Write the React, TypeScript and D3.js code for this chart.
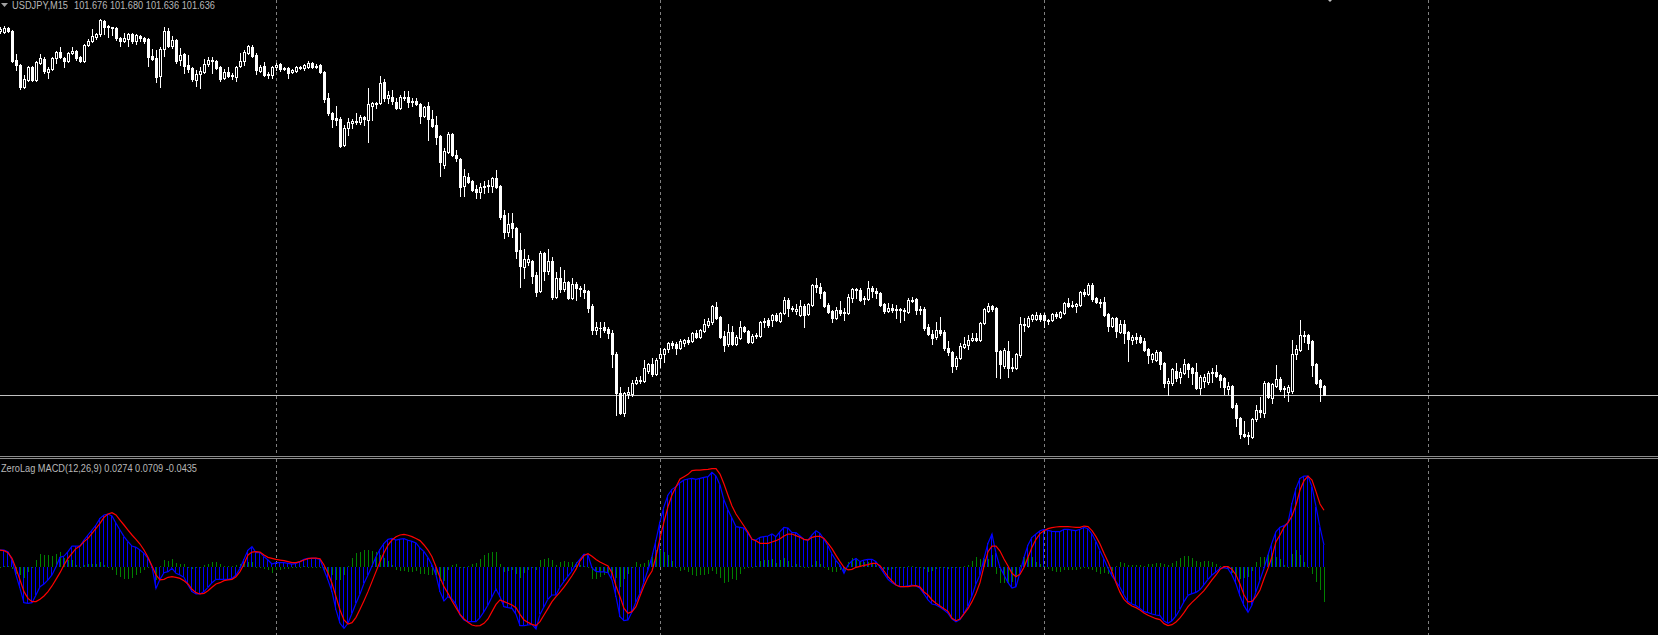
import React from 'react';
import * as d3 from 'd3';

const W = 1658;
const H = 635;

const symbolLabel = 'USDJPY,M15';
const quoteLabel = '101.676 101.680 101.636 101.636';
const indicatorLabel = 'ZeroLag MACD(12,26,9) 0.0274 0.0709 -0.0435';
const bidPrice = 101.636;
const dayStartBars = [69, 165, 261, 357];

const opens = [
  102.000, 101.999, 102.003, 102.000, 101.971, 101.966, 101.944, 101.951, 101.964, 101.951,
  101.968, 101.972, 101.959, 101.962, 101.973, 101.979, 101.973, 101.970, 101.978, 101.980,
  101.974, 101.970, 101.986, 101.990, 101.994, 101.997, 102.010, 102.005, 102.004, 102.003,
  101.993, 101.990, 101.992, 101.997, 101.990, 101.995, 101.993, 101.992, 101.975, 101.973,
  101.955, 101.982, 102.000, 101.985, 101.991, 101.971, 101.977, 101.966, 101.963, 101.951,
  101.957, 101.959, 101.967, 101.971, 101.970, 101.964, 101.953, 101.959, 101.955, 101.954,
  101.965, 101.970, 101.978, 101.984, 101.976, 101.960, 101.965, 101.956, 101.956, 101.964,
  101.967, 101.962, 101.963, 101.959, 101.960, 101.964, 101.963, 101.964, 101.968, 101.965,
  101.966, 101.959, 101.933, 101.918, 101.913, 101.912, 101.886, 101.903, 101.908, 101.910,
  101.909, 101.914, 101.911, 101.925, 101.927, 101.928, 101.949, 101.933, 101.934, 101.929,
  101.923, 101.934, 101.934, 101.929, 101.930, 101.927, 101.915, 101.925, 101.912, 101.906,
  101.895, 101.866, 101.879, 101.897, 101.876, 101.872, 101.845, 101.854, 101.850, 101.842,
  101.839, 101.844, 101.845, 101.845, 101.853, 101.845, 101.816, 101.799, 101.808, 101.803,
  101.781, 101.764, 101.769, 101.770, 101.756, 101.740, 101.778, 101.760, 101.770, 101.734,
  101.753, 101.742, 101.749, 101.733, 101.747, 101.743, 101.741, 101.740, 101.725, 101.701,
  101.703, 101.704, 101.702, 101.698, 101.677, 101.638, 101.618, 101.637, 101.637, 101.648,
  101.650, 101.650, 101.660, 101.667, 101.657, 101.673, 101.677, 101.682, 101.688, 101.687,
  101.683, 101.688, 101.691, 101.690, 101.698, 101.694, 101.700, 101.706, 101.709, 101.724,
  101.714, 101.695, 101.687, 101.699, 101.687, 101.693, 101.704, 101.700, 101.689, 101.695,
  101.695, 101.709, 101.711, 101.711, 101.716, 101.710, 101.718, 101.731, 101.723, 101.720,
  101.716, 101.725, 101.717, 101.726, 101.746, 101.744, 101.739, 101.726, 101.720, 101.713,
  101.721, 101.718, 101.718, 101.733, 101.742, 101.741, 101.732, 101.732, 101.743, 101.740,
  101.738, 101.727, 101.720, 101.723, 101.721, 101.722, 101.721, 101.719, 101.731, 101.732,
  101.721, 101.722, 101.704, 101.697, 101.694, 101.701, 101.699, 101.683, 101.679, 101.665,
  101.673, 101.684, 101.686, 101.691, 101.693, 101.691, 101.708, 101.720, 101.725, 101.723,
  101.680, 101.665, 101.680, 101.664, 101.663, 101.676, 101.707, 101.705, 101.712, 101.712,
  101.716, 101.716, 101.711, 101.711, 101.717, 101.714, 101.718, 101.728, 101.726, 101.725,
  101.726, 101.739, 101.737, 101.746, 101.733, 101.729, 101.729, 101.717, 101.705, 101.713,
  101.699, 101.707, 101.699, 101.691, 101.694, 101.694, 101.690, 101.682, 101.672, 101.671,
  101.679, 101.668, 101.648, 101.648, 101.660, 101.654, 101.658, 101.667, 101.663, 101.659,
  101.643, 101.650, 101.649, 101.659, 101.659, 101.656, 101.653, 101.642, 101.645, 101.626,
  101.613, 101.597, 101.595, 101.594, 101.612, 101.621, 101.618, 101.648, 101.633, 101.645,
  101.652, 101.642, 101.639, 101.640, 101.677, 101.681, 101.696, 101.696, 101.690, 101.667,
  101.651, 101.645,
];

const highs = [
  102.004, 102.005, 102.004, 102.001, 101.977, 101.967, 101.956, 101.965, 101.965, 101.970,
  101.977, 101.974, 101.964, 101.974, 101.980, 101.984, 101.974, 101.979, 101.984, 101.981,
  101.975, 101.987, 101.992, 102.002, 101.998, 102.012, 102.011, 102.006, 102.004, 102.004,
  101.994, 101.998, 101.998, 101.998, 101.997, 101.996, 101.994, 101.993, 101.982, 101.981,
  101.984, 102.004, 102.003, 101.995, 101.992, 101.983, 101.978, 101.976, 101.964, 101.961,
  101.964, 101.972, 101.974, 101.974, 101.971, 101.965, 101.962, 101.964, 101.958, 101.965,
  101.978, 101.981, 101.986, 101.986, 101.978, 101.966, 101.969, 101.959, 101.965, 101.968,
  101.968, 101.964, 101.964, 101.962, 101.965, 101.965, 101.967, 101.970, 101.969, 101.967,
  101.967, 101.960, 101.938, 101.919, 101.925, 101.914, 101.906, 101.913, 101.912, 101.918,
  101.916, 101.915, 101.943, 101.929, 101.929, 101.955, 101.952, 101.940, 101.941, 101.933,
  101.936, 101.940, 101.940, 101.933, 101.933, 101.928, 101.925, 101.929, 101.921, 101.915,
  101.896, 101.883, 101.899, 101.898, 101.881, 101.873, 101.862, 101.858, 101.851, 101.846,
  101.848, 101.850, 101.851, 101.854, 101.861, 101.846, 101.821, 101.818, 101.818, 101.804,
  101.798, 101.782, 101.776, 101.771, 101.759, 101.780, 101.779, 101.782, 101.774, 101.759,
  101.764, 101.761, 101.750, 101.753, 101.749, 101.745, 101.747, 101.741, 101.727, 101.709,
  101.709, 101.709, 101.704, 101.701, 101.679, 101.644, 101.639, 101.644, 101.651, 101.654,
  101.655, 101.671, 101.668, 101.673, 101.673, 101.683, 101.683, 101.689, 101.690, 101.689,
  101.692, 101.692, 101.694, 101.699, 101.701, 101.702, 101.712, 101.713, 101.726, 101.729,
  101.715, 101.700, 101.707, 101.705, 101.696, 101.710, 101.705, 101.701, 101.697, 101.698,
  101.710, 101.713, 101.713, 101.717, 101.718, 101.719, 101.734, 101.733, 101.725, 101.727,
  101.731, 101.727, 101.728, 101.747, 101.753, 101.748, 101.740, 101.728, 101.721, 101.724,
  101.730, 101.723, 101.737, 101.743, 101.743, 101.743, 101.735, 101.750, 101.745, 101.743,
  101.739, 101.728, 101.728, 101.727, 101.726, 101.723, 101.723, 101.733, 101.734, 101.733,
  101.725, 101.724, 101.707, 101.701, 101.709, 101.714, 101.701, 101.690, 101.680, 101.675,
  101.688, 101.694, 101.696, 101.698, 101.698, 101.709, 101.723, 101.728, 101.726, 101.724,
  101.681, 101.683, 101.690, 101.673, 101.678, 101.714, 101.713, 101.715, 101.717, 101.719,
  101.718, 101.718, 101.712, 101.718, 101.719, 101.720, 101.729, 101.733, 101.730, 101.728,
  101.740, 101.742, 101.748, 101.748, 101.734, 101.732, 101.734, 101.718, 101.714, 101.714,
  101.711, 101.711, 101.700, 101.696, 101.698, 101.696, 101.693, 101.683, 101.678, 101.681,
  101.680, 101.669, 101.653, 101.663, 101.668, 101.663, 101.672, 101.668, 101.664, 101.668,
  101.656, 101.657, 101.660, 101.663, 101.666, 101.657, 101.654, 101.649, 101.646, 101.628,
  101.614, 101.610, 101.599, 101.613, 101.626, 101.634, 101.650, 101.649, 101.648, 101.666,
  101.654, 101.645, 101.646, 101.691, 101.686, 101.711, 101.700, 101.697, 101.691, 101.668,
  101.652, 101.646,
];

const lows = [
  101.998, 101.998, 101.999, 101.969, 101.961, 101.942, 101.943, 101.950, 101.950, 101.950,
  101.967, 101.958, 101.953, 101.961, 101.968, 101.973, 101.964, 101.969, 101.977, 101.971,
  101.969, 101.969, 101.985, 101.989, 101.992, 101.995, 101.997, 101.994, 101.996, 101.991,
  101.985, 101.989, 101.985, 101.988, 101.987, 101.990, 101.988, 101.965, 101.971, 101.949,
  101.944, 101.975, 101.984, 101.983, 101.968, 101.966, 101.958, 101.959, 101.950, 101.945,
  101.943, 101.958, 101.965, 101.958, 101.962, 101.950, 101.952, 101.954, 101.952, 101.950,
  101.964, 101.966, 101.977, 101.974, 101.957, 101.959, 101.955, 101.953, 101.953, 101.961,
  101.960, 101.961, 101.953, 101.958, 101.959, 101.962, 101.961, 101.963, 101.963, 101.963,
  101.958, 101.929, 101.916, 101.904, 101.906, 101.884, 101.885, 101.896, 101.903, 101.907,
  101.907, 101.906, 101.889, 101.911, 101.923, 101.927, 101.930, 101.928, 101.927, 101.922,
  101.922, 101.931, 101.924, 101.925, 101.926, 101.908, 101.914, 101.891, 101.904, 101.887,
  101.855, 101.863, 101.878, 101.875, 101.870, 101.835, 101.835, 101.848, 101.840, 101.833,
  101.833, 101.838, 101.839, 101.839, 101.843, 101.812, 101.793, 101.795, 101.794, 101.773,
  101.744, 101.753, 101.766, 101.748, 101.735, 101.739, 101.751, 101.757, 101.732, 101.733,
  101.739, 101.740, 101.732, 101.732, 101.731, 101.735, 101.733, 101.719, 101.697, 101.697,
  101.694, 101.699, 101.693, 101.664, 101.616, 101.617, 101.615, 101.633, 101.635, 101.647,
  101.648, 101.649, 101.658, 101.655, 101.656, 101.664, 101.669, 101.679, 101.683, 101.677,
  101.682, 101.685, 101.687, 101.689, 101.693, 101.693, 101.699, 101.704, 101.707, 101.712,
  101.693, 101.680, 101.685, 101.686, 101.686, 101.692, 101.699, 101.688, 101.688, 101.693,
  101.694, 101.704, 101.704, 101.705, 101.710, 101.709, 101.717, 101.715, 101.720, 101.717,
  101.715, 101.704, 101.716, 101.725, 101.739, 101.733, 101.724, 101.718, 101.709, 101.712,
  101.716, 101.711, 101.717, 101.729, 101.733, 101.730, 101.727, 101.731, 101.734, 101.733,
  101.725, 101.718, 101.719, 101.719, 101.713, 101.709, 101.711, 101.718, 101.729, 101.717,
  101.717, 101.701, 101.696, 101.687, 101.692, 101.696, 101.681, 101.676, 101.659, 101.662,
  101.672, 101.683, 101.682, 101.690, 101.690, 101.690, 101.707, 101.719, 101.720, 101.654,
  101.653, 101.663, 101.654, 101.660, 101.662, 101.674, 101.700, 101.704, 101.710, 101.711,
  101.710, 101.704, 101.707, 101.710, 101.713, 101.713, 101.717, 101.724, 101.724, 101.719,
  101.725, 101.735, 101.736, 101.730, 101.728, 101.724, 101.715, 101.700, 101.704, 101.694,
  101.698, 101.688, 101.670, 101.687, 101.688, 101.688, 101.680, 101.668, 101.669, 101.670,
  101.662, 101.644, 101.636, 101.646, 101.650, 101.648, 101.657, 101.654, 101.647, 101.642,
  101.637, 101.644, 101.647, 101.649, 101.654, 101.644, 101.637, 101.637, 101.623, 101.605,
  101.593, 101.594, 101.587, 101.593, 101.610, 101.614, 101.614, 101.633, 101.628, 101.644,
  101.640, 101.634, 101.630, 101.638, 101.672, 101.680, 101.689, 101.682, 101.655, 101.647,
  101.630, 101.636,
];

const closes = [
  102.002, 102.003, 102.000, 101.970, 101.966, 101.944, 101.952, 101.964, 101.951, 101.969,
  101.973, 101.960, 101.962, 101.973, 101.979, 101.974, 101.970, 101.978, 101.980, 101.973,
  101.970, 101.986, 101.990, 101.995, 101.997, 102.011, 102.004, 102.004, 102.003, 101.993,
  101.990, 101.993, 101.997, 101.990, 101.996, 101.993, 101.990, 101.974, 101.972, 101.954,
  101.982, 102.000, 101.985, 101.991, 101.970, 101.976, 101.965, 101.962, 101.952, 101.957,
  101.960, 101.967, 101.971, 101.970, 101.963, 101.952, 101.959, 101.955, 101.956, 101.964,
  101.970, 101.979, 101.985, 101.975, 101.961, 101.964, 101.956, 101.957, 101.964, 101.966,
  101.962, 101.963, 101.958, 101.961, 101.964, 101.963, 101.966, 101.968, 101.964, 101.964,
  101.959, 101.932, 101.918, 101.912, 101.911, 101.885, 101.903, 101.909, 101.910, 101.909,
  101.914, 101.912, 101.927, 101.928, 101.928, 101.948, 101.933, 101.936, 101.930, 101.923,
  101.934, 101.933, 101.929, 101.930, 101.927, 101.915, 101.924, 101.912, 101.905, 101.894,
  101.869, 101.880, 101.897, 101.876, 101.873, 101.844, 101.855, 101.849, 101.841, 101.839,
  101.844, 101.845, 101.846, 101.853, 101.844, 101.814, 101.799, 101.807, 101.803, 101.780,
  101.765, 101.772, 101.772, 101.755, 101.739, 101.778, 101.760, 101.770, 101.734, 101.753,
  101.742, 101.749, 101.733, 101.747, 101.743, 101.742, 101.739, 101.723, 101.701, 101.704,
  101.703, 101.701, 101.698, 101.677, 101.638, 101.618, 101.638, 101.639, 101.648, 101.651,
  101.651, 101.663, 101.667, 101.657, 101.671, 101.677, 101.682, 101.688, 101.686, 101.683,
  101.690, 101.691, 101.689, 101.698, 101.694, 101.701, 101.707, 101.710, 101.725, 101.713,
  101.694, 101.686, 101.699, 101.687, 101.694, 101.704, 101.700, 101.689, 101.695, 101.696,
  101.709, 101.710, 101.706, 101.716, 101.711, 101.718, 101.731, 101.723, 101.722, 101.722,
  101.725, 101.716, 101.727, 101.746, 101.744, 101.738, 101.725, 101.719, 101.713, 101.721,
  101.718, 101.719, 101.734, 101.742, 101.741, 101.731, 101.733, 101.743, 101.740, 101.738,
  101.726, 101.720, 101.723, 101.721, 101.722, 101.721, 101.720, 101.731, 101.730, 101.721,
  101.722, 101.703, 101.697, 101.693, 101.701, 101.698, 101.683, 101.679, 101.665, 101.673,
  101.685, 101.687, 101.691, 101.693, 101.691, 101.708, 101.722, 101.725, 101.722, 101.680,
  101.667, 101.681, 101.663, 101.663, 101.677, 101.707, 101.706, 101.713, 101.716, 101.716,
  101.712, 101.711, 101.710, 101.717, 101.715, 101.719, 101.728, 101.725, 101.725, 101.727,
  101.739, 101.737, 101.746, 101.732, 101.729, 101.728, 101.716, 101.705, 101.713, 101.700,
  101.707, 101.698, 101.692, 101.694, 101.692, 101.689, 101.681, 101.676, 101.677, 101.679,
  101.667, 101.648, 101.650, 101.662, 101.653, 101.659, 101.667, 101.662, 101.658, 101.643,
  101.654, 101.654, 101.658, 101.658, 101.655, 101.651, 101.644, 101.645, 101.624, 101.613,
  101.597, 101.595, 101.596, 101.612, 101.621, 101.619, 101.648, 101.634, 101.647, 101.652,
  101.642, 101.643, 101.644, 101.677, 101.682, 101.696, 101.695, 101.688, 101.666, 101.648,
  101.644, 101.636,
];

// ZeroLag MACD main line (blue) and signal line (red)
const macdValues = [
  0.0212, 0.0212, 0.0192, 0.0087, -0.0100, -0.0267, -0.0446, -0.0454, -0.0446, -0.0350,
  -0.0246, -0.0212, -0.0162, -0.0100, 0.0004, 0.0121, 0.0137, 0.0192, 0.0262, 0.0262,
  0.0262, 0.0337, 0.0400, 0.0462, 0.0525, 0.0608, 0.0650, 0.0662, 0.0637, 0.0546,
  0.0462, 0.0379, 0.0317, 0.0262, 0.0246, 0.0212, 0.0171, 0.0108, 0.0004, -0.0267,
  -0.0154, -0.0071, -0.0058, -0.0017, -0.0079, -0.0100, -0.0129, -0.0225, -0.0308, -0.0337,
  -0.0337, -0.0308, -0.0254, -0.0196, -0.0154, -0.0154, -0.0154, -0.0154, -0.0142, -0.0100,
  -0.0017, 0.0096, 0.0212, 0.0254, 0.0179, 0.0179, 0.0129, 0.0087, 0.0037, 0.0054,
  0.0054, 0.0054, 0.0046, 0.0037, 0.0046, 0.0067, 0.0096, 0.0108, 0.0108, 0.0108,
  0.0096, -0.0037, -0.0162, -0.0308, -0.0537, -0.0704, -0.0767, -0.0704, -0.0579, -0.0454,
  -0.0337, -0.0204, -0.0100, 0.0012, 0.0129, 0.0221, 0.0296, 0.0346, 0.0358, 0.0337,
  0.0348, 0.0354, 0.0335, 0.0320, 0.0300, 0.0237, 0.0192, 0.0117, 0.0025, -0.0100,
  -0.0308, -0.0425, -0.0371, -0.0400, -0.0467, -0.0600, -0.0662, -0.0683, -0.0683, -0.0683,
  -0.0633, -0.0558, -0.0475, -0.0371, -0.0275, -0.0371, -0.0496, -0.0508, -0.0517, -0.0592,
  -0.0733, -0.0733, -0.0725, -0.0717, -0.0775, -0.0592, -0.0496, -0.0400, -0.0350, -0.0350,
  -0.0250, -0.0180, -0.0115, -0.0050, 0.0035, 0.0098, 0.0160, 0.0150, -0.0012, -0.0055,
  -0.0060, -0.0060, -0.0071, -0.0162, -0.0371, -0.0621, -0.0671, -0.0662, -0.0558, -0.0433,
  -0.0329, -0.0183, -0.0037, 0.0129, 0.0337, 0.0567, 0.0754, 0.0900, 0.0971, 0.1004,
  0.1054, 0.1087, 0.1100, 0.1108, 0.1096, 0.1108, 0.1121, 0.1129, 0.1183, 0.1137,
  0.1025, 0.0837, 0.0712, 0.0608, 0.0504, 0.0496, 0.0487, 0.0421, 0.0346, 0.0337,
  0.0371, 0.0379, 0.0387, 0.0412, 0.0379, 0.0441, 0.0496, 0.0487, 0.0429, 0.0429,
  0.0387, 0.0346, 0.0337, 0.0400, 0.0454, 0.0421, 0.0346, 0.0262, 0.0162, 0.0079,
  0.0025, -0.0079, 0.0025, 0.0079, 0.0108, 0.0067, 0.0087, 0.0096, 0.0096, 0.0067,
  -0.0004, -0.0079, -0.0154, -0.0196, -0.0225, -0.0246, -0.0246, -0.0237, -0.0225, -0.0237,
  -0.0267, -0.0337, -0.0412, -0.0462, -0.0475, -0.0504, -0.0537, -0.0579, -0.0650, -0.0685,
  -0.0658, -0.0580, -0.0490, -0.0360, -0.0210, -0.0100, 0.0108, 0.0296, 0.0412, 0.0171,
  -0.0004, -0.0100, -0.0196, -0.0262, -0.0246, -0.0071, 0.0121, 0.0275, 0.0371, 0.0412,
  0.0454, 0.0471, 0.0458, 0.0446, 0.0442, 0.0442, 0.0471, 0.0471, 0.0462, 0.0454,
  0.0471, 0.0496, 0.0479, 0.0412, 0.0317, 0.0204, 0.0096, -0.0017, -0.0112, -0.0183,
  -0.0254, -0.0354, -0.0433, -0.0462, -0.0483, -0.0517, -0.0558, -0.0571, -0.0587, -0.0600,
  -0.0608, -0.0675, -0.0704, -0.0671, -0.0612, -0.0529, -0.0433, -0.0354, -0.0333, -0.0317,
  -0.0283, -0.0221, -0.0154, -0.0100, -0.0062, -0.0017, -0.0008, -0.0021, -0.0100, -0.0212,
  -0.0362, -0.0483, -0.0567, -0.0475, -0.0308, -0.0162, -0.0017, 0.0150, 0.0304, 0.0442,
  0.0496, 0.0517, 0.0554, 0.0796, 0.0983, 0.1108, 0.1137, 0.1137, 0.1004, 0.0754,
  0.0496, 0.0274,
];

const signalValues = [
  0.0212, 0.0204, 0.0179, 0.0108, -0.0017, -0.0162, -0.0308, -0.0392, -0.0433, -0.0433,
  -0.0404, -0.0362, -0.0308, -0.0237, -0.0154, -0.0071, 0.0025, 0.0108, 0.0171, 0.0233,
  0.0262, 0.0317, 0.0358, 0.0421, 0.0483, 0.0546, 0.0621, 0.0662, 0.0679, 0.0650,
  0.0587, 0.0525, 0.0462, 0.0400, 0.0346, 0.0287, 0.0212, 0.0121, 0.0012, -0.0100,
  -0.0162, -0.0154, -0.0129, -0.0121, -0.0129, -0.0142, -0.0171, -0.0212, -0.0279, -0.0321,
  -0.0337, -0.0329, -0.0296, -0.0254, -0.0212, -0.0196, -0.0171, -0.0162, -0.0154, -0.0121,
  -0.0058, 0.0037, 0.0150, 0.0187, 0.0192, 0.0187, 0.0150, 0.0121, 0.0108, 0.0096,
  0.0087, 0.0079, 0.0067, 0.0054, 0.0054, 0.0067, 0.0087, 0.0104, 0.0112, 0.0112,
  0.0104, 0.0025, -0.0079, -0.0204, -0.0371, -0.0537, -0.0662, -0.0712, -0.0696, -0.0629,
  -0.0529, -0.0421, -0.0308, -0.0183, -0.0058, 0.0067, 0.0179, 0.0275, 0.0337, 0.0379,
  0.0400, 0.0408, 0.0397, 0.0380, 0.0356, 0.0330, 0.0275, 0.0212, 0.0129, 0.0004,
  -0.0133, -0.0246, -0.0329, -0.0425, -0.0508, -0.0592, -0.0650, -0.0692, -0.0725, -0.0737,
  -0.0733, -0.0704, -0.0650, -0.0558, -0.0467, -0.0412, -0.0433, -0.0454, -0.0475, -0.0508,
  -0.0592, -0.0662, -0.0692, -0.0717, -0.0733, -0.0683, -0.0600, -0.0517, -0.0433, -0.0371,
  -0.0315, -0.0252, -0.0183, -0.0110, -0.0027, 0.0077, 0.0143, 0.0167, 0.0133, 0.0094,
  0.0062, 0.0037, 0.0012, -0.0071, -0.0237, -0.0371, -0.0517, -0.0579, -0.0558, -0.0496,
  -0.0362, -0.0237, -0.0129, -0.0050, 0.0129, 0.0358, 0.0567, 0.0754, 0.0900, 0.1004,
  0.1100, 0.1129, 0.1158, 0.1204, 0.1212, 0.1212, 0.1217, 0.1221, 0.1229, 0.1229,
  0.1162, 0.1037, 0.0896, 0.0762, 0.0662, 0.0587, 0.0512, 0.0437, 0.0346, 0.0329,
  0.0296, 0.0296, 0.0296, 0.0312, 0.0329, 0.0354, 0.0387, 0.0412, 0.0412, 0.0392,
  0.0371, 0.0346, 0.0337, 0.0371, 0.0383, 0.0383, 0.0358, 0.0296, 0.0229, 0.0146,
  0.0067, -0.0004, -0.0037, -0.0029, -0.0004, 0.0008, 0.0021, 0.0029, 0.0046, 0.0046,
  0.0017, -0.0050, -0.0121, -0.0175, -0.0225, -0.0246, -0.0246, -0.0246, -0.0237, -0.0233,
  -0.0250, -0.0312, -0.0350, -0.0412, -0.0454, -0.0487, -0.0521, -0.0554, -0.0642, -0.0671,
  -0.0650, -0.0587, -0.0521, -0.0433, -0.0329, -0.0196, 0.0012, 0.0192, 0.0262, 0.0262,
  0.0200, 0.0100, 0.0012, -0.0079, -0.0121, -0.0092, -0.0004, 0.0121, 0.0246, 0.0346,
  0.0417, 0.0454, 0.0479, 0.0492, 0.0500, 0.0504, 0.0504, 0.0504, 0.0500, 0.0496,
  0.0496, 0.0512, 0.0504, 0.0454, 0.0379, 0.0287, 0.0171, 0.0067, -0.0058, -0.0196,
  -0.0317, -0.0404, -0.0454, -0.0487, -0.0508, -0.0537, -0.0575, -0.0604, -0.0625, -0.0646,
  -0.0658, -0.0708, -0.0733, -0.0721, -0.0687, -0.0637, -0.0571, -0.0496, -0.0442, -0.0396,
  -0.0346, -0.0296, -0.0229, -0.0162, -0.0100, -0.0029, 0.0004, 0.0004, -0.0029, -0.0100,
  -0.0212, -0.0350, -0.0437, -0.0429, -0.0371, -0.0287, -0.0146, -0.0017, 0.0129, 0.0317,
  0.0400, 0.0496, 0.0554, 0.0637, 0.0775, 0.0962, 0.1079, 0.1137, 0.1087, 0.0942,
  0.0787, 0.0709,
];

const BG = '#000000';
const CANDLE = '#ffffff';
const GRID = '#808080';
const LABEL = '#b8b8b8';
const FONT = "'Liberation Sans', Arial, sans-serif";

export default function App() {
  const n = closes.length;
  // bar spacing 4px, bar 0 at column 0
  const x = d3.scaleLinear().domain([0, n - 1]).range([0, 4 * (n - 1)]);
  const yPrice = d3.scaleLinear().domain([101.0, 102.031]).range([1031, 0]);
  const yMacd = d3.scaleLinear().domain([0, 0.1]).range([567, 487]);
  const sepTop = 456;
  const subTop = 459;
  const zeroY = Math.round(yMacd(0));

  const candles = opens.map((o, i) => {
    const c = closes[i];
    const cx = Math.round(x(i));
    const yh = Math.round(yPrice(highs[i]));
    const yl = Math.round(yPrice(lows[i]));
    const yTop = Math.round(yPrice(Math.max(o, c)));
    const yBot = Math.round(yPrice(Math.min(o, c)));
    const bull = c > o;
    const wick = (
      <rect key={`w${i}`} x={cx} y={Math.min(yh, yTop)} width={1}
        height={Math.max(yl, yBot) - Math.min(yh, yTop) + 1} fill={CANDLE} />
    );
    let body;
    if (yBot - yTop < 1) {
      body = <rect key={`b${i}`} x={cx - 1} y={yTop} width={3} height={1} fill={CANDLE} />;
    } else if (bull) {
      body = (
        <rect key={`b${i}`} x={cx - 0.5} y={yTop + 0.5} width={2} height={yBot - yTop}
          fill={BG} stroke={CANDLE} strokeWidth={1} />
      );
    } else {
      body = <rect key={`b${i}`} x={cx - 1} y={yTop} width={3} height={yBot - yTop + 1} fill={CANDLE} />;
    }
    return <g key={`c${i}`}>{wick}{body}</g>;
  });

  const barRect = (v: number, col: number, color: string, key: string) => {
    const yv = Math.round(yMacd(v));
    const y0 = Math.min(yv, zeroY);
    const h = Math.max(1, Math.abs(yv - zeroY));
    return <rect key={key} x={col} y={y0} width={1} height={h} fill={color} />;
  };

  const greenBars = macdValues.map((m, i) =>
    barRect(m - signalValues[i], Math.round(x(i)), '#008000', `g${i}`));
  const blueBars = macdValues.map((m, i) =>
    barRect(m, Math.round(x(i)) - 1, '#0000ff', `bb${i}`));

  const macdLine = d3.line<number>().x((_, i) => x(i)).y((v) => yMacd(v))(macdValues) || '';
  const signalLine = d3.line<number>().x((_, i) => x(i)).y((v) => yMacd(v))(signalValues) || '';

  const bidY = Math.round(yPrice(bidPrice)) + 0.5;

  return (
    <svg width={W} height={H} style={{ position: 'absolute', left: 0, top: 0, display: 'block' }}
      xmlns="http://www.w3.org/2000/svg">
      <rect x={0} y={0} width={W} height={H} fill={BG} />
      {/* day separators */}
      {dayStartBars.map((b) => (
        <g key={`d${b}`}>
          <line x1={x(b) + 0.5} x2={x(b) + 0.5} y1={0} y2={sepTop} stroke={GRID}
            strokeWidth={1} strokeDasharray="3,3" shapeRendering="crispEdges" />
          <line x1={x(b) + 0.5} x2={x(b) + 0.5} y1={subTop} y2={H} stroke={GRID}
            strokeWidth={1} strokeDasharray="3,3" shapeRendering="crispEdges" />
        </g>
      ))}
      {/* bid line */}
      <line x1={0} x2={W} y1={bidY} y2={bidY} stroke="#c0c0c0" strokeWidth={1} shapeRendering="crispEdges" />
      <g shapeRendering="crispEdges">{candles}</g>
      {/* window separator */}
      <line x1={0} x2={W} y1={sepTop + 0.5} y2={sepTop + 0.5} stroke="#8c8c8c" strokeWidth={1} shapeRendering="crispEdges" />
      <line x1={0} x2={W} y1={sepTop + 2.5} y2={sepTop + 2.5} stroke="#8c8c8c" strokeWidth={1} shapeRendering="crispEdges" />
      {/* MACD subwindow */}
      <g shapeRendering="crispEdges">{greenBars}{blueBars}</g>
      <path d={macdLine} fill="none" stroke="#0000ff" strokeWidth={1.2} />
      <path d={signalLine} fill="none" stroke="#ff0000" strokeWidth={1.2} />
      {/* labels */}
      <path d="M1,3 L8,3 L4.5,7 Z" fill="#a0a0a0" />
      <text x={12} y={8.5} fontFamily={FONT} fontSize={10}
        fill={LABEL} textLength={56} lengthAdjust="spacingAndGlyphs">
        {symbolLabel}
      </text>
      <text x={74} y={8.5} fontFamily={FONT} fontSize={10}
        fill={LABEL} textLength={141} lengthAdjust="spacingAndGlyphs">
        {quoteLabel}
      </text>
      <text x={1} y={471.5} fontFamily={FONT} fontSize={10}
        fill={LABEL} textLength={196} lengthAdjust="spacingAndGlyphs">
        {indicatorLabel}
      </text>
      {/* chart shift marker */}
      <path d="M1328,0 L1332,0 L1330,2 Z" fill="#c0c0c0" />
    </svg>
  );
}
